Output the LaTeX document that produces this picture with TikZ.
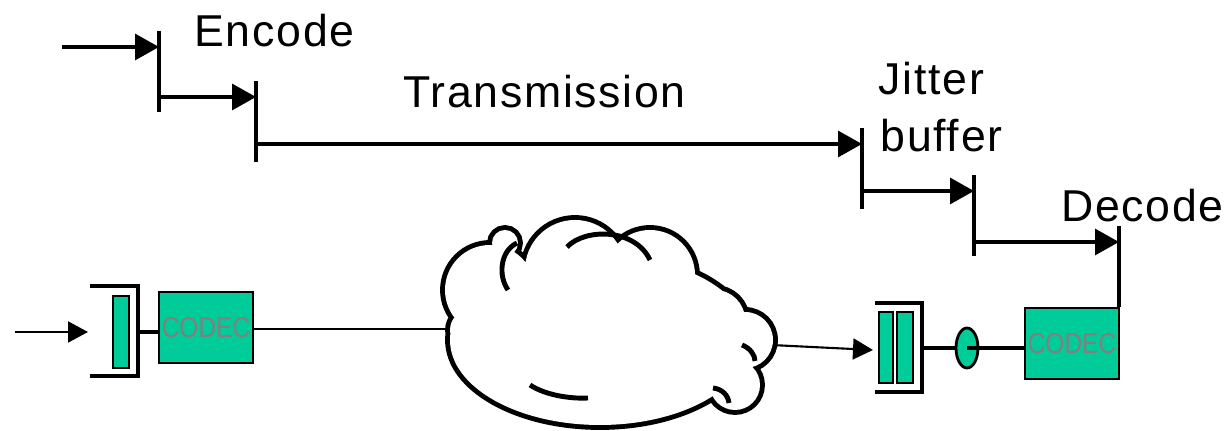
\documentclass[tikz,border=0pt]{standalone}
\usepackage{fontspec}
\newfontfamily\labelfont[LetterSpace=3.8]{Liberation Sans}
\newfontfamily\codecfont[FakeStretch=0.85]{Liberation Sans}
\usetikzlibrary{arrows.meta,calc,shapes.geometric}
\definecolor{codecgreen}{RGB}{0,204,153}
\definecolor{codecgray}{RGB}{128,128,128}

\begin{document}
\begin{tikzpicture}[
    lbl/.style={font=\labelfont\fontsize{12.7}{15}\selectfont, inner sep=0pt},
    arr/.style={-{Triangle[length=0.24cm,width=0.26cm]}, line width=0.95pt},
    thinarr/.style={-{Triangle[length=0.2cm,width=0.21cm]}, line width=0.6pt},
    tickline/.style={line width=1.05pt},
    brk/.style={line width=1.15pt},
    link/.style={line width=1.15pt},
    puff/.style={line width=1.4pt},
    codec/.style={draw, line width=0.6pt, fill=codecgreen, minimum width=0.94cm,
                  minimum height=0.71cm, inner sep=0pt, text=codecgray,
                  font=\codecfont\fontsize{8.2}{9}\selectfont},
    bar/.style={draw, line width=0.5pt, fill=codecgreen, inner sep=0pt,
                minimum width=0.16cm, minimum height=0.72cm},
    jit/.style={ellipse, draw, line width=0.8pt, fill=codecgreen, inner sep=0pt,
                minimum width=0.22cm, minimum height=0.40cm}
  ]
  \useasboundingbox (0,0) rectangle (12.32,4.31);

  % delay timeline
  \foreach \i/\xa/\xb/\y in {1/0.62/1.59/3.84, 2/1.59/2.56/3.34, 3/2.56/8.62/2.87,
                             4/8.62/9.74/2.40, 5/9.74/11.19/1.89} {
    \coordinate (a\i) at (\xa,\y);
    \coordinate (e\i) at (\xb,\y);
    \draw[arr] (a\i) -- (e\i);
    \draw[tickline] ($(e\i)+(0,0.16)$) -- ($(e\i)+(0,-0.65)$);
  }
  \node[lbl, anchor=base] (enc) at (2.745,3.84) {Encode};
  \node[lbl, anchor=base] (trn) at (5.445,3.23) {Transmission};
  \node[lbl, anchor=base west] (jit1) at (8.78,3.36) {Jitter};
  \node[lbl, anchor=base west] (buf) at (8.80,2.79) {buffer};
  \node[lbl, anchor=base] (dec) at (11.425,2.09) {Decode};

  % sender
  \coordinate (src) at (0.15,0.99);
  \coordinate (in1) at (0.88,0.99);
  \draw[thinarr] (src) -- (in1);
  \draw[brk] (0.90,1.45) -| (1.38,0.55) -- (0.90,0.55);
  \coordinate (b1) at (1.38,0.99);
  \node[bar] (q1) at (1.21,0.99) {};
  \node[codec] (c1) at (2.06,1.035) {CODEC};
  \draw[link] (b1) -- (b1 -| c1.west);

  % lines into and out of the network (cloud is drawn over them)
  \coordinate (nin) at (5.0,1.02);
  \coordinate (nout) at (7.3,0.88);
  \coordinate (in2) at (8.73,0.81);
  \draw[line width=0.6pt] (c1.east |- nin) -- (nin);
  \draw[thinarr] (nout) -- (in2);

  % network cloud: union of puffs
  \def\puffs{(6.00,0.91) ellipse (1.50 and 0.85)
    (4.90,1.41) circle (0.45) (5.75,1.61) circle (0.50)
    (6.50,1.56) circle (0.45) (7.15,1.11) circle (0.30)
    (7.45,0.91) circle (0.28) (7.35,0.46) circle (0.25)
    (5.05,1.88) circle (0.13) (4.70,1.01) circle (0.20)}
  \draw[line width=2.8pt] \puffs;
  \fill[white] \puffs;
  \draw[puff] (5.08,1.41) .. controls (4.98,1.55) and (5.00,1.80) .. (5.17,1.88);
  \draw[puff] (5.67,1.84) .. controls (5.85,2.03) and (6.35,2.03) .. (6.50,1.71);
  \draw[puff] (5.30,0.46) .. controls (5.45,0.36) and (5.70,0.32) .. (5.88,0.33);
  \draw[puff] (7.13,0.43) .. controls (7.22,0.42) and (7.28,0.36) .. (7.29,0.28);
  \draw[puff] (7.42,0.86) .. controls (7.50,0.83) and (7.55,0.76) .. (7.55,0.70);

  % receiver
  \draw[brk] (8.75,1.28) -| (9.22,0.39) -- (8.75,0.39);
  \coordinate (b2) at (9.22,0.83);
  \node[bar, minimum width=0.14cm, minimum height=0.71cm] (q2) at (8.86,0.835) {};
  \node[bar, minimum width=0.16cm, minimum height=0.71cm] (q3) at (9.05,0.835) {};
  \node[jit] (el) at (9.67,0.83) {};
  \node[codec] (c2) at (10.72,0.875) {CODEC};
  \draw[link] (b2) -- (el.west);
  \draw[link] (el.center) -- (el.center -| c2.west);
\end{tikzpicture}
\end{document}
